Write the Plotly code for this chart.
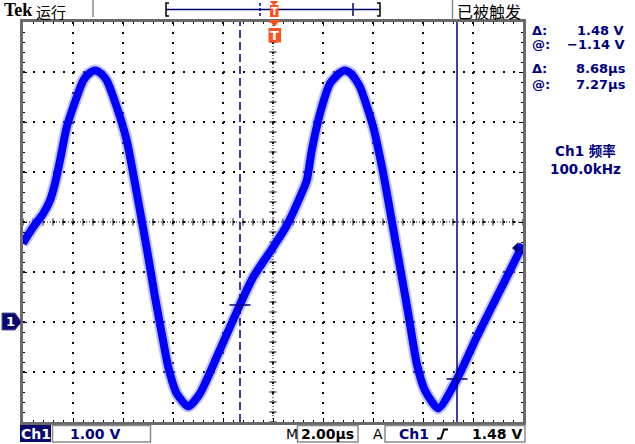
import numpy as np
import plotly.graph_objects as go

# ---------------- data (read from the screen) ----------------
# time relative to trigger (µs), Ch1 voltage (V)
time_us = [-10.10, -9.68, -9.28, -9.01, -8.81, -8.61, -8.34, -8.08, -7.68, -7.45, -7.21,
           -6.97, -6.74, -6.34, -5.94, -5.61, -5.34, -5.08, -4.81, -4.54, -4.28, -3.94,
           -3.48, -3.01, -2.34, -1.41, -0.88, -0.08, 0.46, 0.99, 1.26, 1.46,
           1.79, 2.19, 2.55, 2.79, 3.05, 3.39, 3.92, 4.32, 4.66, 4.99, 5.32, 5.66,
           5.99, 6.52, 7.26, 8.06, 8.99, 9.79, 9.91]
volts = [1.57, 1.90, 2.17, 2.43, 2.77, 3.23, 3.90, 4.30, 4.83, 4.97, 5.03,
         4.97, 4.83, 4.30, 3.63, 2.77, 2.03, 1.30, 0.50, -0.23, -0.90, -1.43,
         -1.69, -1.43, -0.70, 0.35, 0.90, 1.50, 1.93, 2.50, 2.83, 3.43,
         4.17, 4.77, 4.97, 5.03, 4.96, 4.70, 3.90, 2.97, 2.03, 1.10, 0.17, -0.83,
         -1.37, -1.73, -1.15, -0.30, 0.63, 1.43, 1.55]

cursor_t = [-1.41, 7.27]     # vertical (time) cursors, µs
cursor_v = [0.34, -1.14]     # horizontal (voltage) cursor levels, V
trigger_level = 1.48         # V
ch1_scale = "1.00 V"
time_scale = "2.00µs"
freq_label = "100.0kHz"

X_RANGE = [-10.09, 9.91]     # 10 div x 2 µs
Y_RANGE = [-2.0, 6.0]        # 8 div x 1 V
X_CENTER = (X_RANGE[0] + X_RANGE[1]) / 2
Y_CENTER = (Y_RANGE[0] + Y_RANGE[1]) / 2

# ---------------- geometry helpers ----------------
W, H = 635, 444
L, R, T, B = 23, 112, 22, 22
PW, PH = W - L - R, H - T - B

def px(x):
    return (x - L) / PW

def py(y):
    return (H - B - y) / PH

NAVY = "#000080"
ORANGE = "#ff5020"
GRAY = "#8a8a8a"

fig = go.Figure()

# centre-line tick marks (graticule)
xt = np.arange(X_RANGE[0], X_RANGE[1] + 1e-6, 0.4)
yt = np.arange(Y_RANGE[0], Y_RANGE[1] + 1e-6, 0.2)
fig.add_trace(go.Scatter(x=xt, y=[Y_CENTER] * len(xt), mode="markers",
                         marker=dict(symbol="line-ns", size=5, color="black",
                                     line=dict(width=1, color="black")),
                         hoverinfo="skip", showlegend=False))
fig.add_trace(go.Scatter(x=[X_CENTER] * len(yt), y=yt, mode="markers",
                         marker=dict(symbol="line-ew", size=5, color="black",
                                     line=dict(width=1, color="black")),
                         hoverinfo="skip", showlegend=False))

# waveform: halo + core
fig.add_trace(go.Scatter(x=time_us, y=volts, mode="lines",
                         line=dict(color="rgba(120,120,255,0.45)", width=12,
                                   shape="spline", smoothing=0.6),
                         hoverinfo="skip", showlegend=False))
fig.add_trace(go.Scatter(x=time_us, y=volts, mode="lines",
                         line=dict(color="#0000ff", width=8,
                                   shape="spline", smoothing=0.6),
                         hoverinfo="skip", showlegend=False))

# cursor cross marks
fig.add_trace(go.Scatter(x=cursor_t, y=cursor_v, mode="markers",
                         marker=dict(symbol="line-ew", size=15, color=NAVY,
                                     line=dict(width=1.5, color=NAVY)),
                         hoverinfo="skip", showlegend=False))

shapes = []
# centre lines
shapes.append(dict(type="line", xref="paper", yref="y", x0=0, x1=1,
                   y0=Y_CENTER, y1=Y_CENTER, layer="below",
                   line=dict(color="black", width=1, dash="1px,2px")))
shapes.append(dict(type="line", xref="x", yref="paper", x0=X_CENTER, x1=X_CENTER,
                   y0=0, y1=1, layer="below",
                   line=dict(color="black", width=1, dash="1px,2px")))
# time cursors
shapes.append(dict(type="line", xref="x", yref="paper", x0=cursor_t[0], x1=cursor_t[0],
                   y0=0, y1=1, line=dict(color=NAVY, width=1.5, dash="8px,4px")))
shapes.append(dict(type="line", xref="x", yref="paper", x0=cursor_t[1], x1=cursor_t[1],
                   y0=0, y1=1, line=dict(color=NAVY, width=1.5)))
# trigger level arrow on right edge
ty = (trigger_level - Y_RANGE[0]) / (Y_RANGE[1] - Y_RANGE[0])
dy = 5 / PH
shapes.append(dict(type="path", xref="paper", yref="paper",
                   path=f"M {px(512.5)},{ty} L {px(518)},{ty+dy} L {px(518)},{ty-dy} Z",
                   fillcolor=NAVY, line=dict(color=NAVY, width=1)))
shapes.append(dict(type="line", xref="paper", yref="paper", x0=px(517), x1=1,
                   y0=ty, y1=ty, line=dict(color=NAVY, width=1.5)))
# Ch1 ground marker on the left
gy = (0 - Y_RANGE[0]) / (Y_RANGE[1] - Y_RANGE[0])
shapes.append(dict(type="path", xref="paper", yref="paper",
                   path=(f"M {px(2)},{py(313)} L {px(15)},{py(313)} L {px(21.5)},{gy} "
                         f"L {px(15)},{py(330)} L {px(2)},{py(330)} Z"),
                   fillcolor="#0a0a6e", line=dict(color="#5a5a9a", width=1)))

# header: separators, record bar, cursor ticks, trigger markers
shapes += [
    dict(type="line", xref="paper", yref="paper", x0=px(93), x1=px(93), y0=py(0), y1=py(17),
         line=dict(color=GRAY, width=1.5)),
    dict(type="line", xref="paper", yref="paper", x0=px(452.5), x1=px(452.5), y0=py(0), y1=py(20),
         line=dict(color=GRAY, width=1.5)),
    dict(type="line", xref="paper", yref="paper", x0=px(166), x1=px(380), y0=py(9.5), y1=py(9.5),
         line=dict(color="#000060", width=1.5)),
    dict(type="path", xref="paper", yref="paper",
         path=f"M {px(169)},{py(3)} L {px(166)},{py(3)} L {px(166)},{py(16)} L {px(169)},{py(16)}",
         line=dict(color="black", width=1.5)),
    dict(type="path", xref="paper", yref="paper",
         path=f"M {px(377)},{py(3)} L {px(380)},{py(3)} L {px(380)},{py(16)} L {px(377)},{py(16)}",
         line=dict(color="black", width=1.5)),
    dict(type="line", xref="paper", yref="paper", x0=px(260), x1=px(260), y0=py(3), y1=py(16),
         line=dict(color=NAVY, width=1.5, dash="3px,2px")),
    dict(type="line", xref="paper", yref="paper", x0=px(353), x1=px(353), y0=py(3), y1=py(16),
         line=dict(color=NAVY, width=1.5)),
    # top trigger marker
    dict(type="path", xref="paper", yref="paper",
         path=f"M {px(269.5)},{py(1)} L {px(278.5)},{py(1)} L {px(274)},{py(5.5)} Z",
         fillcolor=ORANGE, line=dict(width=0)),
    dict(type="rect", xref="paper", yref="paper", x0=px(270), x1=px(278.5), y0=py(5), y1=py(17),
         fillcolor=ORANGE, line=dict(width=0)),
    # lower trigger marker
    dict(type="path", xref="paper", yref="paper",
         path=f"M {px(268.5)},{py(20)} L {px(280.5)},{py(20)} L {px(274.5)},{py(26.5)} Z",
         fillcolor=ORANGE, line=dict(width=0)),
    dict(type="rect", xref="paper", yref="paper", x0=px(268.5), x1=px(281), y0=py(28), y1=py(42.5),
         fillcolor=ORANGE, line=dict(width=0)),
]

# bottom status bar boxes
shapes += [
    dict(type="rect", xref="paper", yref="paper", x0=px(20), x1=px(51), y0=py(425), y1=py(442),
         fillcolor="#0a0a6e", line=dict(width=0)),
    dict(type="rect", xref="paper", yref="paper", x0=px(52.5), x1=px(150.5), y0=py(425.5), y1=py(442),
         line=dict(color=GRAY, width=1.5)),
    dict(type="rect", xref="paper", yref="paper", x0=px(297.5), x1=px(358), y0=py(425.5), y1=py(442),
         line=dict(color=GRAY, width=1.5)),
    dict(type="rect", xref="paper", yref="paper", x0=px(385), x1=px(525), y0=py(425.5), y1=py(442),
         line=dict(color=GRAY, width=1.5)),
    dict(type="path", xref="paper", yref="paper",
         path=(f"M {px(437)},{py(438.5)} L {px(441)},{py(438.5)} L {px(444)},{py(429.5)} "
               f"L {px(448)},{py(429.5)}"),
         line=dict(color="black", width=2)),
]

# ---------------- texts ----------------
ann = []

def text(s, x, y, anchor="left", size=13, color=NAVY, family="DejaVu Sans", bold=True):
    ann.append(dict(text=(f"<b>{s}</b>" if bold else s), x=px(x), y=py(y),
                    xref="paper", yref="paper", xanchor=anchor, yanchor="middle",
                    showarrow=False, font=dict(size=size, color=color, family=family)))

def fmt(v):
    return f"{v:.2f}".replace("-", "−")

text("Tek", 2, 10.5, size=18, color="black", family="Liberation Serif")
text("运行", 34, 11.5, size=15, color="black", family="Noto Sans CJK SC", bold=False)
text("已被触发", 455, 11.5, size=16, color="black", family="Noto Sans CJK SC", bold=False)
text("T", 274.3, 11.5, anchor="center", size=10, color="white")
text("T", 274.8, 35.5, anchor="center", size=13, color="white")

dv = cursor_v[0] - cursor_v[1]
dt = cursor_t[1] - cursor_t[0]
text("Δ:", 530, 30.5)
text(f"{fmt(dv)} V", 626, 30.5, anchor="right")
text("@:", 530, 44)
text(f"{fmt(cursor_v[1])} V", 627, 44, anchor="right")
text("Δ:", 530, 68)
text(f"{fmt(dt)}µs", 628, 68, anchor="right")
text("@:", 530, 84.5)
text(f"{fmt(cursor_t[1])}µs", 628, 84.5, anchor="right")
text("Ch1 <span style='font-family:Noto Sans CJK SC'>频率</span><br>" + freq_label,
     585, 158.5, anchor="center", size=13.5)

text("1", 10, 321.5, anchor="center", size=13, color="white")

text("Ch1", 35.5, 433.5, anchor="center", size=14, color="white")
text(ch1_scale, 95, 433.5, anchor="center", size=14)
text("M", 291.5, 433.5, anchor="center", size=14, color="black", bold=False)
text(time_scale, 327.5, 433.5, anchor="center", size=14, color="black")
text("A", 378, 433.5, anchor="center", size=14, color="black", bold=False)
text("Ch1", 414, 433.5, anchor="center", size=14)
text(f"{fmt(trigger_level)} V", 524, 433.5, anchor="right", size=14, color="black")

axis_common = dict(showticklabels=False, showgrid=True, gridcolor="black", gridwidth=1.5,
                   griddash="2px,8px", zeroline=False, showline=True, linecolor="#6a6a6a",
                   linewidth=3, mirror="allticks", ticks="inside", ticklen=4,
                   tickcolor="black", tickwidth=1, fixedrange=True)

fig.update_layout(
    width=W, height=H,
    margin=dict(l=L, r=R, t=T, b=B, pad=0),
    paper_bgcolor="white", plot_bgcolor="white",
    showlegend=False,
    xaxis=dict(range=X_RANGE, tick0=X_RANGE[0], dtick=2,
               minor=dict(dtick=0.4, tick0=X_RANGE[0], ticks="inside", ticklen=2,
                          tickcolor="black", showgrid=False),
               **axis_common),
    yaxis=dict(range=Y_RANGE, tick0=Y_RANGE[0], dtick=1,
               minor=dict(dtick=0.2, tick0=Y_RANGE[0], ticks="inside", ticklen=2,
                          tickcolor="black", showgrid=False),
               **axis_common),
    shapes=shapes,
    annotations=ann,
)

fig.write_html("out.html", config={"displayModeBar": False},
               post_script="document.body.style.margin='0';document.body.style.padding='0';")
